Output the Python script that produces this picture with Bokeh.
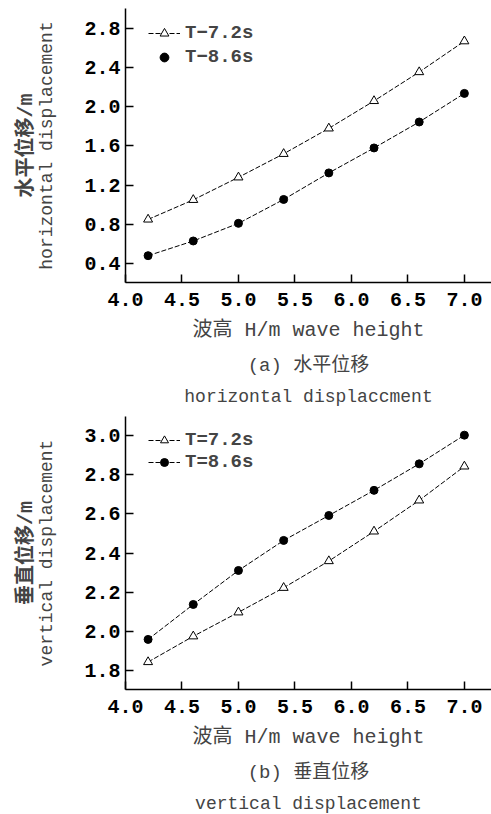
from bokeh.plotting import figure
from bokeh.models import (LinearAxis, FixedTicker, Legend, LegendItem, Title, Range1d)
from bokeh.layouts import column
from bokeh.embed import file_html
from bokeh.resources import INLINE

# ---- data ----
wave_height = [4.2, 4.6, 5.0, 5.4, 5.8, 6.2, 6.6, 7.0]
horiz_T72 = [0.85, 1.05, 1.28, 1.52, 1.78, 2.06, 2.355, 2.67]
horiz_T86 = [0.48, 0.63, 0.81, 1.054, 1.325, 1.58, 1.845, 2.137]
vert_T72 = [1.845, 1.976, 2.098, 2.223, 2.359, 2.51, 2.668, 2.841]
vert_T86 = [1.96, 2.138, 2.311, 2.464, 2.591, 2.719, 2.854, 3.0]
x_ticks = [4.0, 4.5, 5.0, 5.5, 6.0, 6.5, 7.0]
top_y_ticks = [0.4, 0.8, 1.2, 1.6, 2.0, 2.4, 2.8]
bot_y_ticks = [1.8, 2.0, 2.2, 2.4, 2.6, 2.8, 3.0]

MONO = "Liberation Mono, Noto Sans CJK SC"


def make_fig(yr, yticks, ylab_cn, ylab_en, cap_cn, cap_en, ya, yb, lab_a, lab_b,
             line_for_b, height, top_border, frame_h, leg_loc, leg_spacing, leg_row):
    p = figure(width=491, height=height,
               x_range=Range1d(4.0, 7.24), y_range=Range1d(*yr),
               output_backend="svg", toolbar_location=None,
               min_border_left=125, min_border_right=0, min_border_top=top_border,
               min_border_bottom=height - top_border - frame_h)
    p.outline_line_color = None
    p.grid.visible = False
    p.background_fill_color = "white"
    p.border_fill_color = "white"

    p.xaxis.ticker = FixedTicker(ticks=x_ticks)
    p.yaxis.ticker = FixedTicker(ticks=yticks)
    for ax in (p.xaxis, p.yaxis):
        ax.major_tick_in = 8
        ax.major_tick_out = 0
        ax.minor_tick_line_color = None
        ax.axis_line_width = 1.5
        ax.major_tick_line_width = 1.5
        ax.axis_line_color = "black"
        ax.major_tick_line_color = "black"
        ax.major_label_text_font = MONO
        ax.major_label_text_font_size = "20px"
        ax.major_label_text_font_style = "bold"
        ax.major_label_text_color = "black"
    p.xaxis.major_label_overrides = {t: "%.1f" % t for t in x_ticks}
    p.yaxis.major_label_overrides = {t: "%.1f" % t for t in yticks}
    p.xaxis.major_label_standoff = 10
    p.yaxis.major_label_standoff = 5

    p.xaxis.axis_label = "波高 H/m wave height"
    p.xaxis.axis_label_text_font = MONO
    p.xaxis.axis_label_text_font_size = "20px"
    p.xaxis.axis_label_text_font_style = "normal"
    p.xaxis.axis_label_standoff = 10

    p.yaxis.axis_label = ylab_en
    p.yaxis.axis_label_text_font = MONO
    p.yaxis.axis_label_text_font_size = "18px"
    p.yaxis.axis_label_text_font_style = "normal"
    p.yaxis.axis_label_standoff = 24

    ax2 = LinearAxis(ticker=FixedTicker(ticks=[]), axis_line_color=None,
                     major_tick_line_color=None, minor_tick_line_color=None,
                     major_label_text_font_size="0px",
                     axis_label=ylab_cn, axis_label_text_font=MONO,
                     axis_label_text_font_size="20px",
                     axis_label_text_font_style="bold", axis_label_standoff=-3)
    p.add_layout(ax2, "left")

    p.add_layout(Title(text=cap_cn, align="center", text_font=MONO,
                       text_font_size="19px", text_font_style="normal",
                       standoff=16), "below")
    p.add_layout(Title(text=cap_en, align="center", text_font=MONO,
                       text_font_size="18px", text_font_style="normal",
                       standoff=0), "below")

    la = p.line(wave_height, ya, line_color="black", line_width=1, line_dash="5 2")
    sa = p.scatter(wave_height, ya, marker="triangle", size=9,
                   line_color="black", fill_color="white", line_width=1)
    lb = p.line(wave_height, yb, line_color="black", line_width=1, line_dash="5 2")
    sb = p.scatter(wave_height, yb, marker="circle", size=8,
                   line_color="black", fill_color="black")
    items = [LegendItem(label=lab_a, renderers=[la, sa]),
             LegendItem(label=lab_b, renderers=[lb, sb] if line_for_b else [sb])]
    legend = Legend(items=items, location=leg_loc, margin=0, padding=0,
                    border_line_color=None, background_fill_alpha=0,
                    glyph_width=32, glyph_height=leg_row, label_height=leg_row,
                    label_standoff=5, spacing=leg_spacing,
                    label_text_font=MONO, label_text_font_size="19px",
                    label_text_font_style="bold")
    p.add_layout(legend, "center")
    return p


p1 = make_fig((0.206, 3.004), top_y_ticks, "水平位移/m", "horizontal displacement",
              "(a) 水平位移", "horizontal displaccment", horiz_T72, horiz_T86,
              "T−7.2s", "T−8.6s", False, 408, 8, 274, (23, 214), 2, 22)
p2 = make_fig((1.705, 3.095), bot_y_ticks, "垂直位移/m", "vertical displacement",
              "(b) 垂直位移", "vertical displacement", vert_T72, vert_T86,
              "T=7.2s", "T=8.6s", True, 406, 8, 273, (23, 216), 0, 20)

lay = column(p1, p2, spacing=0)
open("out.html", "w").write(file_html(lay, INLINE))
